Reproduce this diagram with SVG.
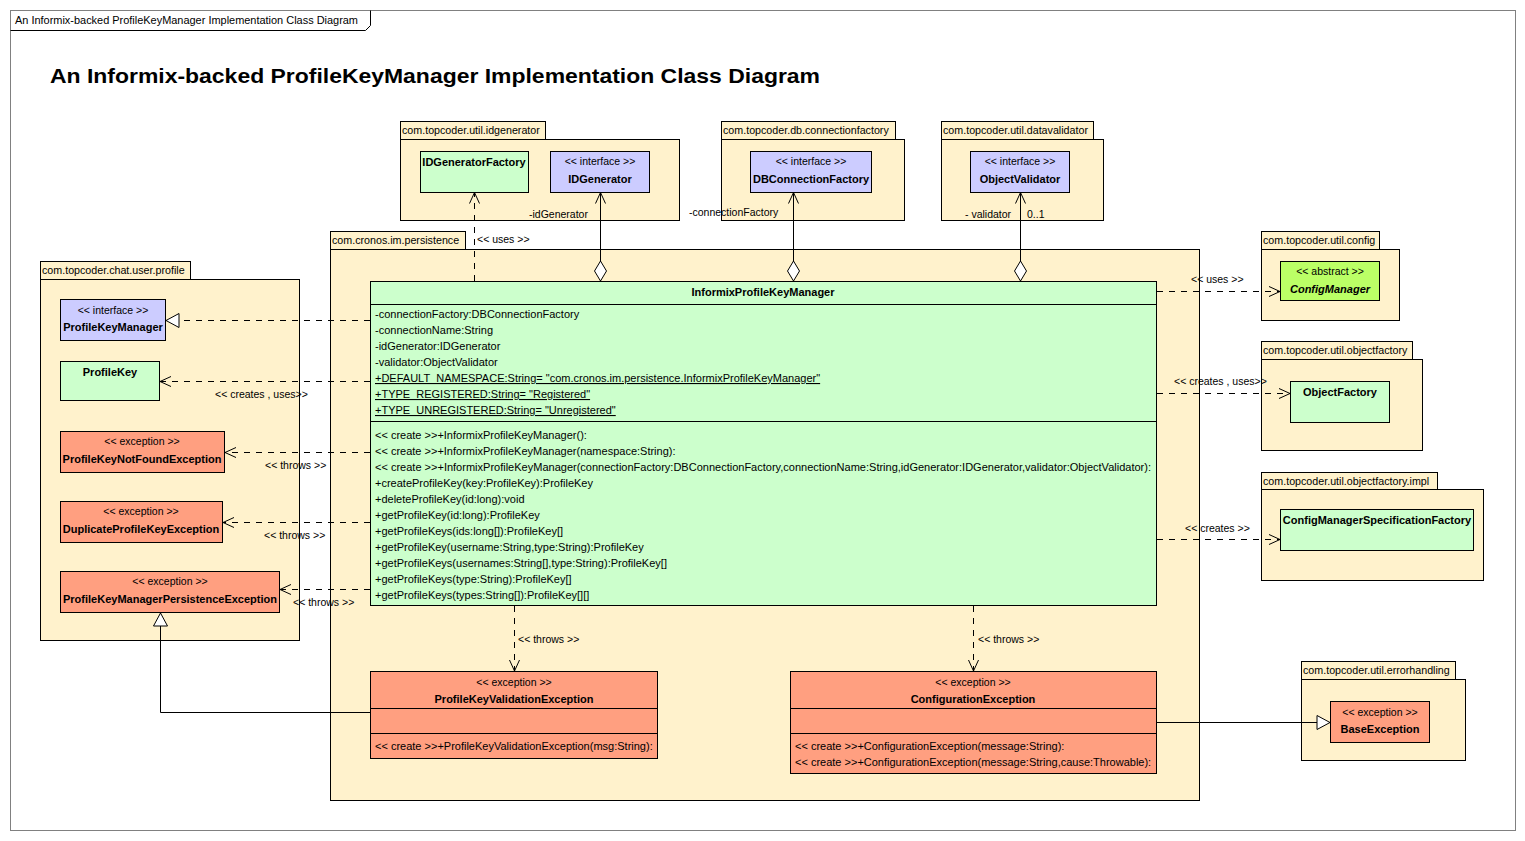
<svg xmlns="http://www.w3.org/2000/svg" width="1525" height="841" viewBox="0 0 1525 841">
<style>
text{font-family:"Liberation Sans",Arial,sans-serif;font-size:11px;fill:#000}
.pkg{fill:#FFF2CC;stroke:#000;stroke-width:1}
.cls{fill:#CCFFCC;stroke:#000;stroke-width:1}
.ifc{fill:#CCCCFF;stroke:#000;stroke-width:1}
.exc{fill:#FF9F80;stroke:#000;stroke-width:1}
.abs{fill:#BBFF66;stroke:#000;stroke-width:1}
.st{font-size:10.5px;text-anchor:middle}
.nm{font-weight:bold;text-anchor:middle}
.pl{font-size:10.7px}
.mb{font-size:11px}
.u{text-decoration:underline}
.ln{fill:none;stroke:#000;stroke-width:1}
.ds{fill:none;stroke:#000;stroke-width:1;stroke-dasharray:6,6}
.arr{marker-end:url(#open)}
.tri{marker-end:url(#tri)}
.lbl{font-size:10.5px}
</style>
<defs>
<marker id="open" markerUnits="userSpaceOnUse" markerWidth="16" markerHeight="16" viewBox="-13 -8 16 16" refX="0" refY="0" orient="auto">
<path d="M-11,-5 L0,0 L-11,5" fill="none" stroke="#000" stroke-width="1"/>
</marker>
<marker id="tri" markerUnits="userSpaceOnUse" markerWidth="18" markerHeight="18" viewBox="-15 -9 18 18" refX="0" refY="0" orient="auto">
<path d="M-13,-7 L0,0 L-13,7 Z" fill="#fff" stroke="#000" stroke-width="1"/>
</marker>
<marker id="dia" markerUnits="userSpaceOnUse" markerWidth="24" markerHeight="16" viewBox="-2 -8 24 16" refX="0" refY="0" orient="auto">
<path d="M0,0 L10,-6 L20,0 L10,6 Z" fill="#fff" stroke="#000" stroke-width="1"/>
</marker>
</defs>
<rect x="0" y="0" width="1525" height="841" fill="#fff"/>
<g id="frame">
<rect x="10.5" y="10.5" width="1505" height="820" fill="none" stroke="#808080" stroke-width="1"/>
<path d="M10.5,30.5 L365.5,30.5 L370.5,25.5 L370.5,10.5" fill="none" stroke="#000" stroke-width="1"/>
<text x="15" y="24" style="font-size:11px" textLength="343" lengthAdjust="spacingAndGlyphs">An Informix-backed ProfileKeyManager Implementation Class Diagram</text>
<text x="50" y="83" style="font-size:21px;font-weight:bold" textLength="770" lengthAdjust="spacingAndGlyphs">An Informix-backed ProfileKeyManager Implementation Class Diagram</text>
</g>

<g id="pkg-idgenerator">
<rect class="pkg" x="400.5" y="121.5" width="145" height="18"/>
<rect class="pkg" x="400.5" y="139.5" width="279" height="81"/>
<text class="pl" x="402" y="134">com.topcoder.util.idgenerator</text>
</g>
<g id="IDGeneratorFactory">
<rect class="cls" x="420.5" y="151.5" width="108" height="41"/>
<text class="nm" x="474" y="166">IDGeneratorFactory</text>
</g>
<g id="IDGenerator">
<rect class="ifc" x="550.5" y="151.5" width="99" height="41"/>
<text class="st" x="600" y="165">&lt;&lt; interface &gt;&gt;</text>
<text class="nm" x="600" y="183">IDGenerator</text>
</g>

<g id="pkg-connectionfactory">
<rect class="pkg" x="721.5" y="121.5" width="174" height="18"/>
<rect class="pkg" x="721.5" y="139.5" width="183" height="81"/>
<text class="pl" x="723" y="134">com.topcoder.db.connectionfactory</text>
</g>
<g id="DBConnectionFactory">
<rect class="ifc" x="750.5" y="151.5" width="121" height="41"/>
<text class="st" x="811" y="165">&lt;&lt; interface &gt;&gt;</text>
<text class="nm" x="811" y="183">DBConnectionFactory</text>
</g>

<g id="pkg-datavalidator">
<rect class="pkg" x="941.5" y="121.5" width="152" height="18"/>
<rect class="pkg" x="941.5" y="139.5" width="162" height="81"/>
<text class="pl" x="943" y="134">com.topcoder.util.datavalidator</text>
</g>
<g id="ObjectValidator">
<rect class="ifc" x="970.5" y="151.5" width="99" height="41"/>
<text class="st" x="1020" y="165">&lt;&lt; interface &gt;&gt;</text>
<text class="nm" x="1020" y="183">ObjectValidator</text>
</g>

<g id="pkg-profile">
<rect class="pkg" x="40.5" y="261.5" width="150" height="18"/>
<rect class="pkg" x="40.5" y="279.5" width="259" height="361"/>
<text class="pl" x="42" y="274">com.topcoder.chat.user.profile</text>
</g>
<g id="ProfileKeyManager">
<rect class="ifc" x="60.5" y="299.5" width="105" height="41"/>
<text class="st" x="113" y="314">&lt;&lt; interface &gt;&gt;</text>
<text class="nm" x="113" y="331">ProfileKeyManager</text>
</g>
<g id="ProfileKey">
<rect class="cls" x="60.5" y="361.5" width="99" height="39"/>
<text class="nm" x="110" y="376">ProfileKey</text>
</g>
<g id="ProfileKeyNotFoundException">
<rect class="exc" x="60.5" y="431.5" width="164" height="41"/>
<text class="st" x="142" y="445">&lt;&lt; exception &gt;&gt;</text>
<text class="nm" x="142" y="463">ProfileKeyNotFoundException</text>
</g>
<g id="DuplicateProfileKeyException">
<rect class="exc" x="60.5" y="501.5" width="162" height="41"/>
<text class="st" x="141" y="515">&lt;&lt; exception &gt;&gt;</text>
<text class="nm" x="141" y="533">DuplicateProfileKeyException</text>
</g>
<g id="ProfileKeyManagerPersistenceException">
<rect class="exc" x="60.5" y="571.5" width="219" height="41"/>
<text class="st" x="170" y="585">&lt;&lt; exception &gt;&gt;</text>
<text class="nm" x="170" y="603">ProfileKeyManagerPersistenceException</text>
</g>

<g id="pkg-persistence">
<rect class="pkg" x="330.5" y="231.5" width="135" height="18"/>
<rect class="pkg" x="330.5" y="249.5" width="869" height="551"/>
<text class="pl" x="332" y="244">com.cronos.im.persistence</text>
</g>
<g id="InformixProfileKeyManager">
<rect class="cls" x="370.5" y="281.5" width="786" height="324"/>
<line class="ln" x1="370.5" y1="304.5" x2="1156.5" y2="304.5"/>
<line class="ln" x1="370.5" y1="421.5" x2="1156.5" y2="421.5"/>
<text class="nm" x="763" y="296">InformixProfileKeyManager</text>
<text class="mb" x="375" y="318">-connectionFactory:DBConnectionFactory</text>
<text class="mb" x="375" y="334">-connectionName:String</text>
<text class="mb" x="375" y="350">-idGenerator:IDGenerator</text>
<text class="mb" x="375" y="366">-validator:ObjectValidator</text>
<text class="mb u" x="375" y="382">+DEFAULT_NAMESPACE:String= "com.cronos.im.persistence.InformixProfileKeyManager"</text>
<text class="mb u" x="375" y="398">+TYPE_REGISTERED:String= "Registered"</text>
<text class="mb u" x="375" y="414">+TYPE_UNREGISTERED:String= "Unregistered"</text>
<text class="mb" x="375" y="439">&lt;&lt; create &gt;&gt;+InformixProfileKeyManager():</text>
<text class="mb" x="375" y="455">&lt;&lt; create &gt;&gt;+InformixProfileKeyManager(namespace:String):</text>
<text class="mb" x="375" y="471" textLength="776" lengthAdjust="spacingAndGlyphs">&lt;&lt; create &gt;&gt;+InformixProfileKeyManager(connectionFactory:DBConnectionFactory,connectionName:String,idGenerator:IDGenerator,validator:ObjectValidator):</text>
<text class="mb" x="375" y="487">+createProfileKey(key:ProfileKey):ProfileKey</text>
<text class="mb" x="375" y="503">+deleteProfileKey(id:long):void</text>
<text class="mb" x="375" y="519">+getProfileKey(id:long):ProfileKey</text>
<text class="mb" x="375" y="535">+getProfileKeys(ids:long[]):ProfileKey[]</text>
<text class="mb" x="375" y="551">+getProfileKey(username:String,type:String):ProfileKey</text>
<text class="mb" x="375" y="567">+getProfileKeys(usernames:String[],type:String):ProfileKey[]</text>
<text class="mb" x="375" y="583">+getProfileKeys(type:String):ProfileKey[]</text>
<text class="mb" x="375" y="599">+getProfileKeys(types:String[]):ProfileKey[][]</text>
</g>
<g id="ProfileKeyValidationException">
<rect class="exc" x="370.5" y="671.5" width="287" height="87"/>
<line class="ln" x1="370.5" y1="708.5" x2="657.5" y2="708.5"/>
<line class="ln" x1="370.5" y1="733.5" x2="657.5" y2="733.5"/>
<text class="st" x="514" y="686">&lt;&lt; exception &gt;&gt;</text>
<text class="nm" x="514" y="703">ProfileKeyValidationException</text>
<text class="mb" x="375" y="750">&lt;&lt; create &gt;&gt;+ProfileKeyValidationException(msg:String):</text>
</g>
<g id="ConfigurationException">
<rect class="exc" x="790.5" y="671.5" width="366" height="102"/>
<line class="ln" x1="790.5" y1="708.5" x2="1156.5" y2="708.5"/>
<line class="ln" x1="790.5" y1="733.5" x2="1156.5" y2="733.5"/>
<text class="st" x="973" y="686">&lt;&lt; exception &gt;&gt;</text>
<text class="nm" x="973" y="703">ConfigurationException</text>
<text class="mb" x="795" y="750">&lt;&lt; create &gt;&gt;+ConfigurationException(message:String):</text>
<text class="mb" x="795" y="766">&lt;&lt; create &gt;&gt;+ConfigurationException(message:String,cause:Throwable):</text>
</g>

<g id="pkg-config">
<rect class="pkg" x="1261.5" y="231.5" width="118" height="18"/>
<rect class="pkg" x="1261.5" y="249.5" width="138" height="71"/>
<text class="pl" x="1263" y="244">com.topcoder.util.config</text>
</g>
<g id="ConfigManager">
<rect class="abs" x="1280.5" y="261.5" width="99" height="39"/>
<text class="st" x="1330" y="275">&lt;&lt; abstract &gt;&gt;</text>
<text class="nm" x="1330" y="293" style="font-style:italic">ConfigManager</text>
</g>
<g id="pkg-objectfactory">
<rect class="pkg" x="1261.5" y="341.5" width="151" height="18"/>
<rect class="pkg" x="1261.5" y="359.5" width="161" height="91"/>
<text class="pl" x="1263" y="354">com.topcoder.util.objectfactory</text>
</g>
<g id="ObjectFactory">
<rect class="cls" x="1290.5" y="381.5" width="99" height="41"/>
<text class="nm" x="1340" y="396">ObjectFactory</text>
</g>
<g id="pkg-objectfactory-impl">
<rect class="pkg" x="1261.5" y="472.5" width="176" height="17"/>
<rect class="pkg" x="1261.5" y="489.5" width="222" height="91"/>
<text class="pl" x="1263" y="485">com.topcoder.util.objectfactory.impl</text>
</g>
<g id="ConfigManagerSpecificationFactory">
<rect class="cls" x="1280.5" y="509.5" width="193" height="41"/>
<text class="nm" x="1377" y="524">ConfigManagerSpecificationFactory</text>
</g>
<g id="pkg-errorhandling">
<rect class="pkg" x="1301.5" y="661.5" width="154" height="18"/>
<rect class="pkg" x="1301.5" y="679.5" width="164" height="81"/>
<text class="pl" x="1303" y="674">com.topcoder.util.errorhandling</text>
</g>
<g id="BaseException">
<rect class="exc" x="1330.5" y="701.5" width="99" height="41"/>
<text class="st" x="1380" y="716">&lt;&lt; exception &gt;&gt;</text>
<text class="nm" x="1380" y="733">BaseException</text>
</g>

<g id="connectors">
<path class="ln arr" d="M600.5,281 L600.5,192.5" marker-start="url(#dia)"/>
<path class="ln arr" d="M793.5,281 L793.5,192.5" marker-start="url(#dia)"/>
<path class="ln arr" d="M1020.5,281 L1020.5,192.5" marker-start="url(#dia)"/>
<path class="ds arr" d="M474.5,281 L474.5,192.5"/>
<path class="ds tri" d="M370,320.5 L166,320.5"/>
<path class="ds arr" d="M370,381.5 L160,381.5"/>
<path class="ds arr" d="M370,452.5 L225,452.5"/>
<path class="ds arr" d="M370,522.5 L223,522.5"/>
<path class="ds arr" d="M370,589.5 L280,589.5"/>
<path class="ln tri" d="M370,712.5 L160.5,712.5 L160.5,613"/>
<path class="ds arr" d="M1157,291.5 L1280,291.5"/>
<path class="ds arr" d="M1157,393.5 L1290,393.5"/>
<path class="ds arr" d="M1157,539.5 L1280,539.5"/>
<path class="ln tri" d="M1157,722.5 L1330,722.5"/>
<path class="ds arr" d="M514.5,606 L514.5,671"/>
<path class="ds arr" d="M973.5,606 L973.5,671"/>
<text class="lbl" x="529" y="218">-idGenerator</text>
<text class="lbl" x="689" y="216">-connectionFactory</text>
<text class="lbl" x="965" y="218">- validator</text>
<text class="lbl" x="1027" y="218">0..1</text>
<text class="lbl" x="477" y="243">&lt;&lt; uses &gt;&gt;</text>
<text class="lbl" x="215" y="398">&lt;&lt; creates , uses&gt;&gt;</text>
<text class="lbl" x="265" y="469">&lt;&lt; throws &gt;&gt;</text>
<text class="lbl" x="264" y="539">&lt;&lt; throws &gt;&gt;</text>
<text class="lbl" x="293" y="606">&lt;&lt; throws &gt;&gt;</text>
<text class="lbl" x="1191" y="283">&lt;&lt; uses &gt;&gt;</text>
<text class="lbl" x="1174" y="385">&lt;&lt; creates , uses&gt;&gt;</text>
<text class="lbl" x="1185" y="532">&lt;&lt; creates &gt;&gt;</text>
<text class="lbl" x="518" y="643">&lt;&lt; throws &gt;&gt;</text>
<text class="lbl" x="978" y="643">&lt;&lt; throws &gt;&gt;</text>
</g>
</svg>
